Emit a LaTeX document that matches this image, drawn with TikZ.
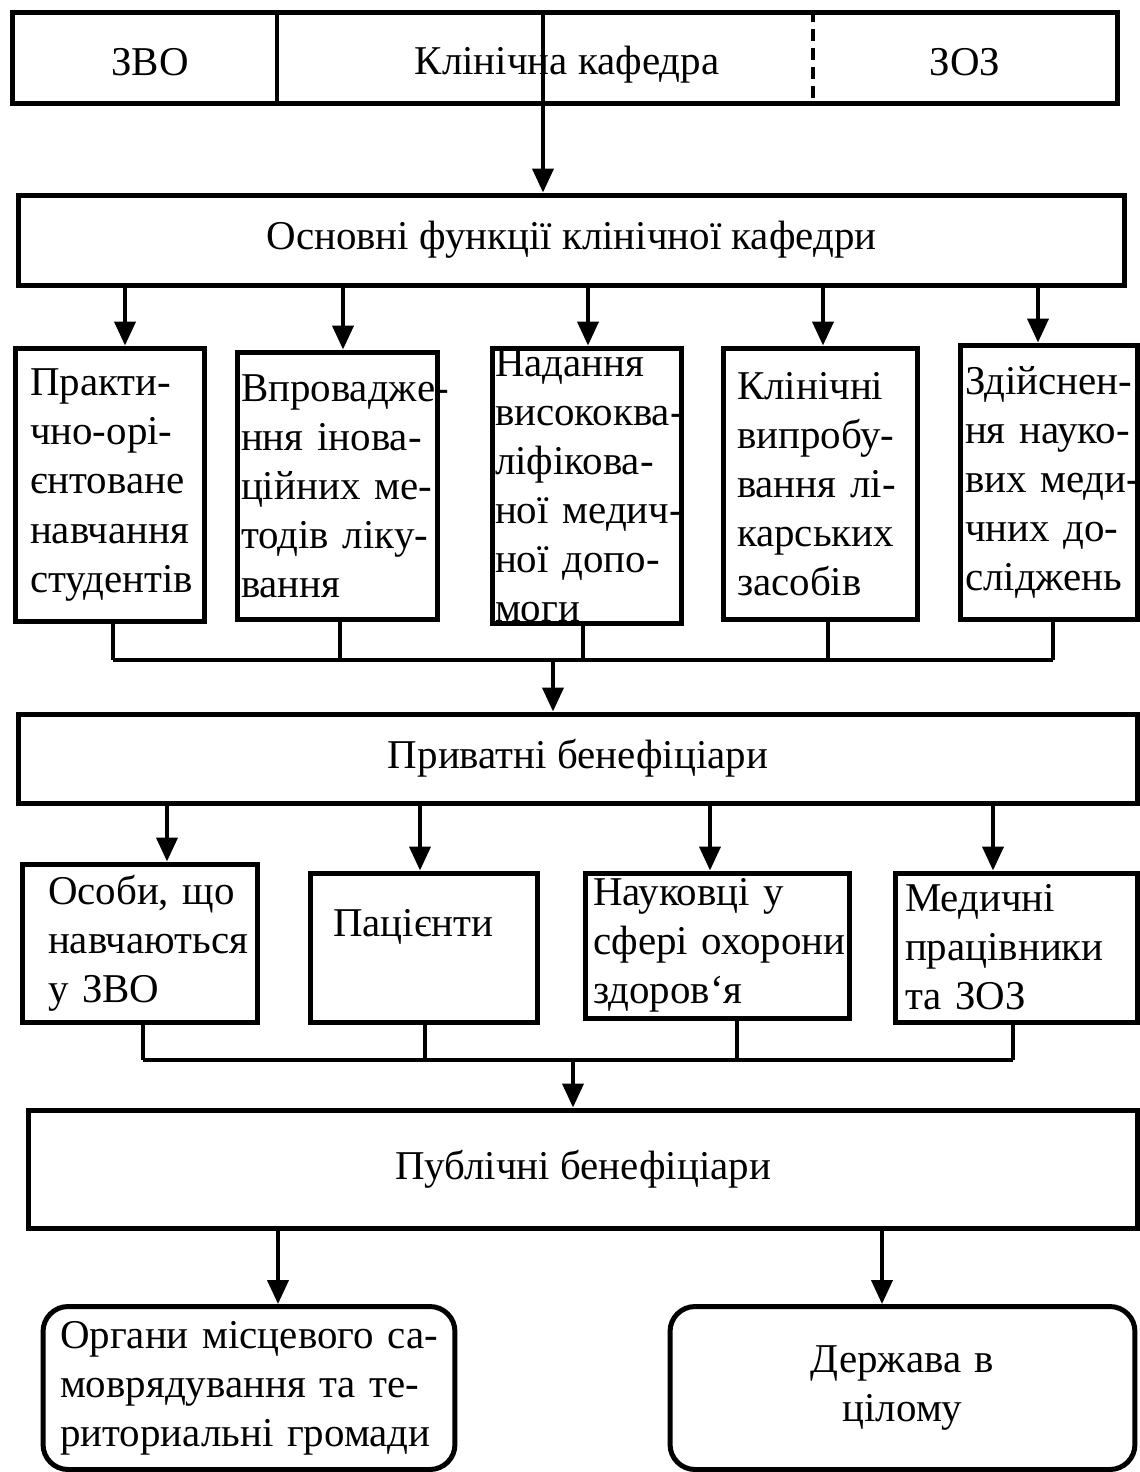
\documentclass[tikz,border=0pt]{standalone}
\usepackage{fontspec}
\setmainfont{Liberation Serif}
\usetikzlibrary{arrows.meta}

\begin{document}
\fontsize{23.3}{27.9}\selectfont
\begin{tikzpicture}[x=0.02cm, y=-0.02cm,
	box/.style = {draw, line width=0.1cm, inner sep=0pt},
	fbox/.style = {draw, line width=0.1cm, align=left, inner ysep=0pt,
		execute at begin node={\exhyphenpenalty=10000\hyphenpenalty=10000}},
	rbox/.style = {fbox, rounded corners=0.5cm},
	arr/.style = {line width=0.08cm, -{Triangle[length=0.48cm, width=0.42cm]}},
	bus/.style = {line width=0.09cm},
	sep/.style = {line width=0.07cm}]
	\useasboundingbox (0,0) rectangle (1140,1472);

	% top row
	\node[box, minimum width=22.12cm, minimum height=1.82cm] (top) at (565,57.5) {};
	\node (zvo) at (150,62) {ЗВО};
	\node (kaf) at (567,65) {Клінічна кафедра};
	\node (zoz) at (965,62) {ЗОЗ};
	\draw[sep] (top.north -| 277,0) -- (top.south -| 277,0);
	\draw[sep, dash pattern=on 0.24cm off 0.14cm] (top.north -| 813,0) -- (top.south -| 813,0);

	\node[box, minimum width=22.14cm, minimum height=1.8cm] (funcs) at (571.5,240) {Основні функції клінічної кафедри};
	\draw[arr] (top.north -| 543,0) -- (funcs.north -| 543,0);

	% functions
	\node[fbox, text width=3.2cm, inner xsep=0.3cm, minimum height=5.48cm] (f1) at (110,485)
		{Практи-\\чно-орі-\\єнтоване\\навчання\\студентів};
	\node[fbox, text width=3.86cm, inner xsep=0.08cm, minimum height=5.36cm] (f2) at (337.5,486)
		{Впроваджe-\\ння~інова-\\ційних~ме-\\тодів~ліку-\\вання};
	\node[fbox, text width=3.68cm, inner xsep=0.06cm, minimum height=5.52cm] (f3) at (587,486)
		{Надання\\висококва-\\ліфікова-\\ної~медич-\\ної~допо-\\моги};
	\node[fbox, text width=3.34cm, inner xsep=0.28cm, minimum height=5.44cm] (f4) at (820.5,484)
		{Клінічні\\випробу-\\вання~лі-\\карських\\засобів};
	\node[fbox, text width=3.36cm, inner xsep=0.1cm, minimum height=5.5cm] (f5) at (1049,482.5)
		{Здійснен-\\ня~науко-\\вих~меди-\\чних~до-\\сліджень};
	\foreach \i/\x in {1/125,2/343,3/588,4/823,5/1038}
		\draw[arr] (funcs.south -| \x,0) -- (f\i.north -| \x,0);

	\node[box, minimum width=22.4cm, minimum height=1.78cm] (priv) at (578,758.5) {Приватні бенефіціари};
	\coordinate (b1) at (553,660);
	\foreach \i/\x in {1/113,2/340,3/583,4/828,5/1053}
		\draw[bus] (f\i.south -| \x,0) -- (b1 -| \x,0);
	\draw[bus] (b1 -| 113,0) -- (b1 -| 1053,0);
	\draw[arr] (b1) -- (b1 |- priv.north);

	% private beneficiaries
	\node[fbox, text width=3.68cm, inner xsep=0.52cm, minimum height=3.16cm] (p1) at (140,943)
		{Особи,~що\\навчаються\\у~ЗВО};
	\node[fbox, text width=3.64cm, inner xsep=0.46cm, minimum height=2.98cm] (p2) at (424,947.5)
		{Пацієнти\\\mbox{}};
	\node[fbox, text width=4.98cm, inner xsep=0.16cm, minimum height=2.9cm] (p3) at (717.5,945.5)
		{Науковці~у\\сфері~охорони\\здоров\symbol{96}я};
	\node[fbox, text width=4.46cm, inner xsep=0.2cm, minimum height=2.98cm] (p4) at (1016.5,947.5)
		{Медичні\\працівники\\та~ЗОЗ};
	\foreach \i/\x in {1/167,2/420,3/710,4/993}
		\draw[arr] (priv.south -| \x,0) -- (p\i.north -| \x,0);

	\node[box, minimum width=22.2cm, minimum height=2.36cm] (publ) at (583,1169) {Публічні бенефіціари};
	\coordinate (b2) at (573,1060);
	\foreach \i/\x in {1/143,2/425,3/737,4/1013}
		\draw[bus] (p\i.south -| \x,0) -- (b2 -| \x,0);
	\draw[bus] (b2 -| 143,0) -- (b2 -| 1013,0);
	\draw[arr] (b2) -- (b2 |- publ.north);

	% public beneficiaries
	\node[rbox, text width=7.56cm, inner xsep=0.34cm, minimum height=3.26cm] (o1) at (249,1388)
		{Органи~місцевого~са-\\моврядування~та~те-\\риториальні~громади};
	\node[rbox, align=center, text width=8.7cm, inner xsep=0.3cm, minimum height=3.26cm] (o2) at (902.5,1388)
		{Держава в\\цілому};
	\draw[arr] (publ.south -| 278,0) -- (o1.north -| 278,0);
	\draw[arr] (publ.south -| 882,0) -- (o2.north -| 882,0);
\end{tikzpicture}
\end{document}
